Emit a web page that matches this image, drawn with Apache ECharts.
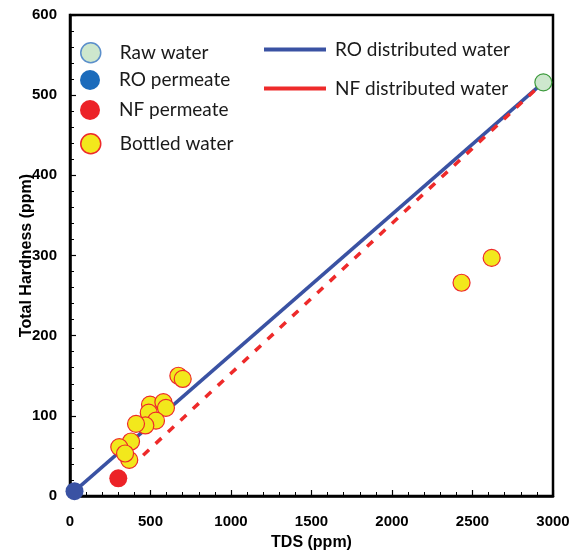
<!DOCTYPE html>
<html><head><meta charset="utf-8">
<script src="https://cdn.jsdelivr.net/npm/echarts@6/dist/echarts.min.js"></script>
<style>html,body{margin:0;padding:0;background:#fff}#c{width:577px;height:558px}</style>
</head><body><div id="c"></div>
<script>
// Data (TDS ppm, Total Hardness ppm)
const rawWater = [[2940, 516]];
const roPermeate = [[28, 6]];
const nfPermeate = [[300, 22]];
const bottledWater = [
  [673, 150], [700, 146], [497, 114], [580, 117], [596, 110], [489, 104],
  [534, 94], [468, 88], [410, 90], [379, 68], [306, 61], [368, 45], [342, 53],
  [2432, 266], [2619, 297]
];
const roDistributed = [[28, 6], [2940, 516]];
const nfDistributed = [[300, 22], [2940, 516]];
const xTicks = [0, 500, 1000, 1500, 2000, 2500, 3000];
const yTicks = [0, 100, 200, 300, 400, 500, 600];

const chart = echarts.init(document.getElementById('c'));
const legFont = {fontFamily: 'Lato', fontSize: 19, color: '#1a1a1a', padding: [0, 0, 0, 14]};
function ptLegend(name, top, style) {
  return {data: [{name: name, icon: 'circle', itemStyle: style}], left: 75, top: top,
    itemWidth: 20, itemHeight: 20, textStyle: legFont, selectedMode: false};
}
const axFont = {fontFamily: 'Liberation Sans', fontWeight: 'bold', fontSize: 15, color: '#000'};
chart.setOption({
  animation: false,
  grid: {left: 70, right: 24, top: 15, bottom: 62, show: true, borderColor: '#000', borderWidth: 2.5,
         containLabel: false, outerBoundsMode: 'none'},
  legend: [
    ptLegend('Raw water', 37, {color: '#cde7cd', borderColor: '#5b8fcb', borderWidth: 1.5}),
    ptLegend('RO permeate', 65, {color: '#1b6bbb', borderWidth: 0}),
    ptLegend('NF permeate', 95, {color: '#ec2227', borderWidth: 0}),
    ptLegend('Bottled water', 128, {color: '#f2e81c', borderColor: '#ee2a2a', borderWidth: 1.5}),
    {data: [{name: 'RO distributed water', icon: 'rect'}, {name: 'NF distributed water', icon: 'rect'}],
     orient: 'vertical', left: 259, top: 35, itemWidth: 62, itemHeight: 4, itemGap: 20,
     textStyle: Object.assign({}, legFont, {padding: [0, 0, 0, 4]}), selectedMode: false}
  ],
  xAxis: {
    type: 'value', min: 0, max: 3000, interval: 500,
    name: 'TDS (ppm)', nameLocation: 'middle', nameGap: 39, nameMoveOverlap: false,
    nameTextStyle: Object.assign({}, axFont, {fontSize: 16}),
    axisLine: {lineStyle: {color: '#000', width: 2.5}},
    axisTick: {inside: true, length: 6, lineStyle: {color: '#000', width: 1.2}},
    minorTick: {show: true, splitNumber: 5, length: 4, lineStyle: {color: '#000', width: 1}},
    axisLabel: Object.assign({margin: 18, formatter: v => xTicks.includes(v) ? String(v) : ''}, axFont),
    splitLine: {show: false}
  },
  yAxis: {
    type: 'value', min: 0, max: 600, interval: 100,
    name: 'Total Hardness (ppm)', nameLocation: 'middle', nameGap: 35, nameMoveOverlap: false,
    nameTextStyle: Object.assign({}, axFont, {fontSize: 16}),
    axisLine: {lineStyle: {color: '#000', width: 2.5}},
    axisTick: {inside: true, length: 6, lineStyle: {color: '#000', width: 1.2}},
    minorTick: {show: true, splitNumber: 5, length: 4, lineStyle: {color: '#000', width: 1}},
    axisLabel: Object.assign({margin: 13, formatter: v => yTicks.includes(v) ? String(v) : ''}, axFont),
    splitLine: {show: false}
  },
  series: [
    {name: 'RO distributed water', type: 'line', data: roDistributed, showSymbol: false, symbol: 'none',
     color: '#3a52a3', lineStyle: {color: '#3a52a3', width: 3.5}, z: 2},
    {name: 'NF distributed water', type: 'line', data: nfDistributed, showSymbol: false, symbol: 'none',
     color: '#ee2a2a', lineStyle: {color: '#ee2a2a', width: 3.5, type: [8, 9]}, z: 2},
    {name: 'Raw water', type: 'scatter', data: rawWater, symbolSize: 17,
     itemStyle: {color: '#cde7cd', borderColor: '#3c9a3c', borderWidth: 1.2, opacity: 1}, z: 3},
    {name: 'RO permeate', type: 'scatter', data: roPermeate, symbolSize: 18,
     itemStyle: {color: '#3a52a3', opacity: 1}, z: 3},
    {name: 'NF permeate', type: 'scatter', data: nfPermeate, symbolSize: 18,
     itemStyle: {color: '#ec2227', opacity: 1}, z: 3},
    {name: 'Bottled water', type: 'scatter', data: bottledWater, symbolSize: 17,
     itemStyle: {color: '#f2e81c', borderColor: '#ee2a2a', borderWidth: 1.2, opacity: 1}, z: 3}
  ]
});
</script></body></html>
